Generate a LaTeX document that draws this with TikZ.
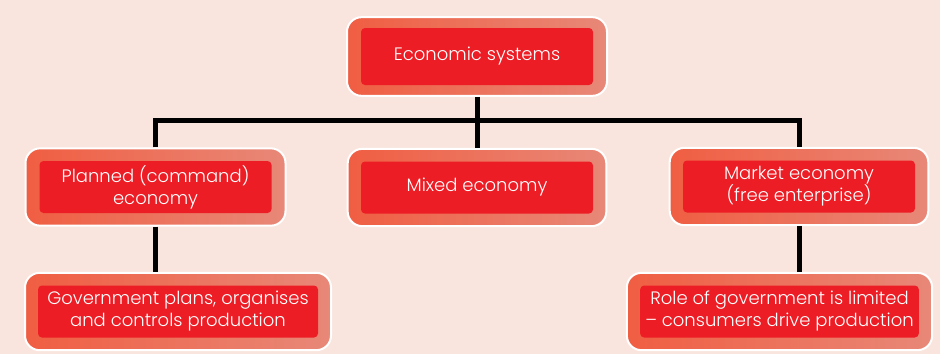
\documentclass[tikz,border=0pt]{standalone}
\usepackage{fontspec}
\setmainfont{Poppins}[UprightFont=* Light]
\usepackage{xcolor}
\usetikzlibrary{positioning}

\definecolor{paper}{RGB}{249,229,221}
\definecolor{boxred}{RGB}{237,29,37}
\definecolor{frameleft}{RGB}{240,94,66}
\definecolor{frameright}{RGB}{232,136,120}

\begin{document}
\begin{tikzpicture}[x=0.75pt, y=-0.75pt,
    frame/.style={rectangle, rounded corners=11pt, draw=white, line width=1.5pt,
        left color=frameleft, right color=frameright, minimum height=58pt},
    box/.style={rectangle, rounded corners=3pt, fill=boxred, text=white, align=center,
        font=\fontsize{13.5}{16.5}\selectfont, inner sep=0pt, minimum height=39pt},
    link/.style={line width=3.75pt, line join=miter}]

    \fill[paper] (0,0) rectangle (940,354);

    \node[frame, minimum width=195pt, minimum height=59pt] (top) at (477,56.5) {};
    \node[box, minimum width=174pt, minimum height=42.75pt] at (top) {Economic systems};

    \node[frame, minimum width=195pt] (plan) at (155.5,187) {};
    \node[box, minimum width=174pt] at (plan) {Planned (command)\\economy};

    \node[frame, minimum width=194pt] (mixed) at (477,187.5) {};
    \node[box, minimum width=174pt] at (mixed) {Mixed economy};

    \node[frame, minimum width=194pt] (market) at (799,186.5) {};
    \node[box, minimum width=174pt] at (market) {Market economy\\(free enterprise)};

    \node[frame, minimum width=229.5pt] (govt) at (178,311.5) {};
    \node[box, minimum width=210pt] at (govt) {Government plans, organises\\and controls production};

    \node[frame, minimum width=229pt] (role) at (779.5,311.5) {};
    \node[box, minimum width=209pt] at (role) {Role of government is limited\\-- consumers drive production};

    \coordinate (bar) at (477,120);

    \draw[link] (top.south) -- (bar) -- (mixed.north);
    \draw[link] (plan.north) -- (plan.north |- bar) -- (market.north |- bar) -- (market.north);
    \draw[link] (plan.south) -- (plan.south |- govt.north);
    \draw[link] (market.south) -- (market.south |- role.north);

\end{tikzpicture}
\end{document}
